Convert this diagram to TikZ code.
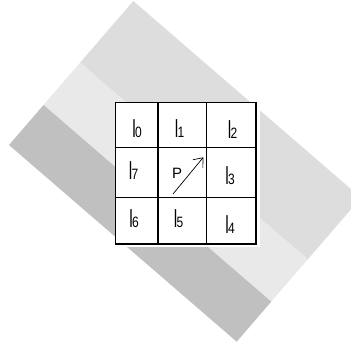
\documentclass[tikz,border=0pt]{standalone}
\usepackage{fontspec}
\setmainfont{Liberation Sans}
\usepackage{xcolor}
\usepackage{graphicx}
\usetikzlibrary{calc,arrows.meta}
\definecolor{bandtop}{HTML}{DDDDDD}
\definecolor{bandmid}{HTML}{E9E9E9}
\definecolor{bandlow}{HTML}{C0C0C0}
\newcommand{\stemI}{\scalebox{0.55}[1]{I}}
\newcommand{\idx}[1]{\kern-1pt{\fontsize{15}{15}\selectfont\scalebox{0.8}[1]{#1}}}
\tikzset{
  cellline/.style={line width=1.2pt,black},
  lab/.style={inner sep=0pt,anchor=base,font=\fontsize{26}{26}\selectfont},
  ar/.style={-{Straight Barb[length=8pt,width=13pt]},line width=0.7pt}
}

\begin{document}
\begin{tikzpicture}[x=1pt,y=-1pt]
\useasboundingbox (0,0) rectangle (351,347);
% tilted bands
\coordinate (T) at (133.3,1); \coordinate (L) at (9,145);
\coordinate (R) at (361,197.7); \coordinate (B) at (236.7,341.7);
\coordinate (A1) at ($(T)!0.428!(L)$); \coordinate (A2) at ($(T)!0.722!(L)$);
\coordinate (B1) at ($(R)!0.428!(B)$); \coordinate (B2) at ($(R)!0.722!(B)$);
\begin{scope}
\clip (0,0) rectangle (351,347);
\fill[bandtop] (T)--(A1)--(B1)--(R)--cycle;
\fill[bandmid] (A1)--(A2)--(B2)--(B1)--cycle;
\fill[bandlow] (A2)--(L)--(B)--(B2)--cycle;
\end{scope}
% 3x3 window
\fill[white] (115.7,102.7) rectangle (259.5,246.7);
\draw[cellline] (115.7,102.7) rectangle (256,244);
\draw[cellline] (158,102.7)--(158,244) (206.7,102.7)--(206.7,244);
\draw[cellline] (115.7,147.7)--(256,147.7) (115.7,197.7)--(256,197.7);
\node[lab] (i0) at (137,138) {\stemI\idx{0}};
\node[lab] (i1) at (179.5,138) {\stemI\idx{1}};
\node[lab] (i2) at (232.5,138.5) {\stemI\idx{2}};
\node[lab] (i7) at (133.5,180) {\stemI\idx{7}};
\node[lab] (i3) at (230,185) {\stemI\idx{3}};
\node[lab] (i6) at (134,228) {\stemI\idx{6}};
\node[lab] (i5) at (178.5,228) {\stemI\idx{5}};
\node[lab] (i4) at (230,234) {\stemI\idx{4}};
\node[inner sep=0pt,anchor=base west,font=\fontsize{15}{15}\selectfont] (p) at (172,178.5) {P};
\coordinate (tail) at (173,194); \coordinate (head) at (203.3,157.3);
\draw[ar] (tail)--(head);
\end{tikzpicture}
\end{document}
